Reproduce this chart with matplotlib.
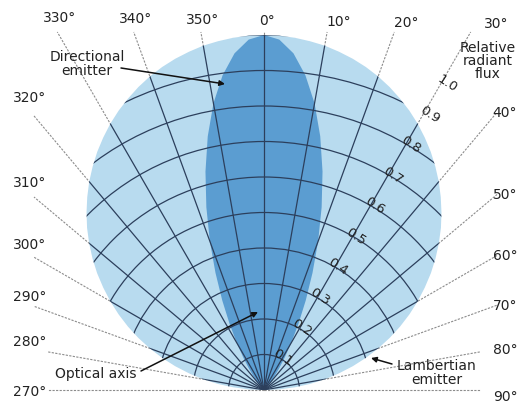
import numpy as np
import matplotlib
matplotlib.use("Agg")
import matplotlib.pyplot as plt
from matplotlib.patches import Polygon, Arc

# ---------------- data ----------------
# angles measured clockwise from the optical axis (negative = left side)
grid_angles = [-90, -80, -70, -60, -50, -40, -30, -20, -10, 0,
               10, 20, 30, 40, 50, 60, 70, 80, 90]
angle_labels = ["270°", "280°", "290°", "300°", "310°", "320°", "330°",
                "340°", "350°", "0°", "10°", "20°", "30°", "40°", "50°",
                "60°", "70°", "80°", "90°"]
ring_radii = [0.1, 0.2, 0.3, 0.4, 0.5, 0.6, 0.7, 0.8, 0.9, 1.0]
ring_labels = ["0.1", "0.2", "0.3", "0.4", "0.5", "0.6", "0.7", "0.8",
               "0.9", "1.0"]

# Lambertian emitter: relative radiant flux vs angle
lambert_angles = [0, 2.5, 5, 7.5, 10, 12.5, 15, 17.5, 20, 22.5, 25, 27.5,
                  30, 32.5, 35, 37.5, 40, 42.5, 45, 47.5, 50, 52.5, 55,
                  57.5, 60, 62.5, 65, 67.5, 70, 72.5, 75, 77.5, 80, 82.5,
                  85, 87.5, 90]
lambert_flux = [1.000, 0.999, 0.996, 0.991, 0.985, 0.976, 0.966, 0.954,
                0.940, 0.924, 0.906, 0.887, 0.866, 0.843, 0.819, 0.793,
                0.766, 0.737, 0.707, 0.676, 0.643, 0.609, 0.574, 0.537,
                0.500, 0.462, 0.423, 0.383, 0.342, 0.301, 0.259, 0.216,
                0.174, 0.131, 0.087, 0.044, 0.000]

# Directional emitter: relative radiant flux vs angle
dir_angles = [0, 2.5, 5, 7.5, 10, 12.5, 15, 17.5, 20, 22.5, 25, 27.5, 30,
              32.5, 35, 37.5, 40, 42.5, 45, 50, 55, 60]
dir_flux = [1.000, 0.988, 0.952, 0.894, 0.820, 0.732, 0.637, 0.540, 0.446,
            0.357, 0.278, 0.210, 0.154, 0.109, 0.075, 0.049, 0.031, 0.019,
            0.011, 0.003, 0.001, 0.000]

# ---------------- layout helpers ----------------
W, H = 527, 403
S = 355.0            # pixels per unit flux
OX, OY = 264, 390    # origin (pixels from top-left)


def P(px, py):
    return ((px - OX) / S, (OY - py) / S)


def xy(angle_deg, r):
    a = np.radians(np.asarray(angle_deg, dtype=float))
    r = np.asarray(r, dtype=float)
    return r * np.sin(a), r * np.cos(a)


def mirrored(angles, values):
    ang = [-a for a in angles[::-1]] + list(angles[1:])
    val = list(values[::-1]) + list(values[1:])
    return ang, val


LIGHT = "#b8dbef"
DARK = "#5b9dd1"
GRID = "#2c3f5c"
DOT = "#8c8c8c"
TXT = "#222222"

fig = plt.figure(figsize=(W / 100, H / 100), dpi=100)
fig.patch.set_facecolor("white")
ax = fig.add_axes([0, 0, 1, 1])
ax.set_xlim(P(0, 0)[0], P(W, 0)[0])
ax.set_ylim(P(0, H)[1], P(0, 0)[1])
ax.axis("off")

plt.rcParams["font.family"] = ["DejaVu Sans"]

# Lambertian region
la, lv = mirrored(lambert_angles, lambert_flux)
lx, ly = xy(la, lv)
lambert_patch = Polygon(np.column_stack([lx, ly]), closed=True,
                        facecolor=LIGHT, edgecolor="none", zorder=2)
ax.add_patch(lambert_patch)

# Directional region
da, dv = mirrored(dir_angles, dir_flux)
dx, dy = xy(da, dv)
ax.add_patch(Polygon(np.column_stack([dx, dy]), closed=True,
                     facecolor=DARK, edgecolor="none", zorder=3))


def ray_end(a):
    s, c = np.sin(np.radians(a)), np.cos(np.radians(a))
    right_px = 497 if abs(a) < 80 else 480
    left_px = 34 if abs(a) < 80 else 48
    top_px = 32
    ts = []
    if s > 1e-9:
        ts.append((right_px - OX) / S / s)
    if s < -1e-9:
        ts.append((left_px - OX) / S / s)
    if c > 1e-9:
        ts.append((OY - top_px) / S / c)
    return min(ts)


# radial lines: dotted outside, solid inside Lambertian region
for a in grid_angles:
    t = ray_end(a)
    ex, ey = xy(a, t)
    ax.plot([0, ex], [0, ey], color=DOT, lw=0.8,
            linestyle=(0, (2, 1.2)), zorder=1, solid_capstyle="butt")
    ln, = ax.plot([0, ex], [0, ey], color=GRID, lw=0.9, zorder=4)
    ln.set_clip_path(lambert_patch)

# concentric rings clipped to Lambertian region
for r in ring_radii:
    arc = Arc((0, 0), 2 * r, 2 * r, theta1=0, theta2=180, color=GRID,
              lw=0.9, zorder=4)
    ax.add_patch(arc)
    arc.set_clip_path(lambert_patch)

# ring labels along the 30 deg line
for r, lab in zip(ring_radii, ring_labels):
    tx, ty = xy(31, r + 0.005)
    ax.text(tx, ty, lab, fontsize=9.5, color=TXT, rotation=-33,
            rotation_mode="anchor", ha="center", va="center", zorder=6)

# angle labels
for a, lab in zip(grid_angles, angle_labels):
    if abs(a) <= 30:
        off = 25 if a == 30 else (12 if a > 0 else (3 if a == 0 else 2))
        px = OX + 358 * np.tan(np.radians(a)) + off
        py = 21 + a * 0.1
    elif a > 0:
        px = 505
        py = 397 if a == 90 else OY - 233 / np.tan(np.radians(a)) + 1
    else:
        px = 30
        py = 392 if a == -90 else OY - 240 / np.tan(np.radians(-a)) - 6
    ax.text(*P(px, py), lab, fontsize=10, color=TXT, ha="center",
            va="center", zorder=6)

# annotations
arrow = dict(arrowstyle="-|>", color="#111111", lw=1.1, mutation_scale=8,
             shrinkA=0, shrinkB=0)
ax.text(*P(87, 64), "Directional\nemitter", fontsize=10, color=TXT,
        ha="center", va="center", linespacing=1.05, zorder=6)
ax.annotate("", xy=P(225, 84), xytext=P(121, 68), arrowprops=arrow,
            zorder=6)

ax.text(*P(96, 374), "Optical axis", fontsize=10, color=TXT,
        ha="center", va="center", zorder=6)
ax.annotate("", xy=P(258, 312), xytext=P(141, 371), arrowprops=arrow,
            zorder=6)

ax.text(*P(437, 373), "Lambertian\nemitter", fontsize=10, color=TXT,
        ha="center", va="center", linespacing=1.05, zorder=6)
ax.annotate("", xy=P(371, 358), xytext=P(392, 364), arrowprops=arrow,
            zorder=6)

ax.text(*P(488, 61), "Relative\nradiant\nflux", fontsize=10, color=TXT,
        ha="center", va="center", linespacing=0.95, zorder=6)

fig.savefig("out.png", dpi=100, facecolor="white")
